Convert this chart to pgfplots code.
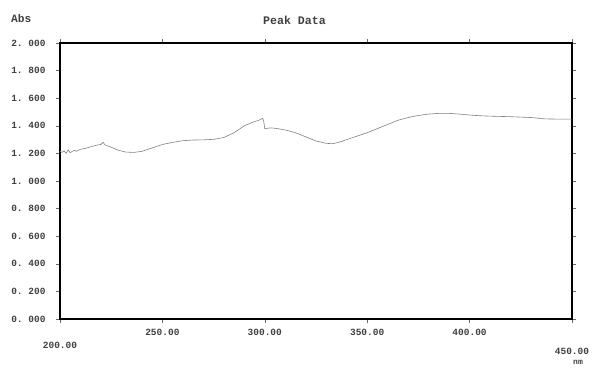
\documentclass[border=0pt]{standalone}
\usepackage{fontspec}
\setmainfont{Liberation Serif}
\setmonofont{Liberation Mono}
\usepackage{pgfplots}
\pgfplotsset{compat=1.18}
\begin{document}
\begin{tikzpicture}[x=1pt,y=1pt]
\path[use as bounding box] (-60,-49) rectangle (535,319);
\begin{axis}[
  at={(0,0)}, anchor=south west,
  scale only axis, width=512pt, height=276pt,
  xmin=200, xmax=450, ymin=0, ymax=2,
  axis line style={line width=1.3pt, black},
  tick align=outside, major tick length=4pt,
  tick style={black!60, line width=0.5pt},
  xtick={200,250,300,350,400,450},
  xticklabels={\raisebox{-19pt}{200.00},250.00,300.00,350.00,400.00,\raisebox{-25pt}{450.00}},
  ytick={0,0.2,0.4,0.6,0.8,1.0,1.2,1.4,1.6,1.8,2.0},
  yticklabels={0. 000,0. 200,0. 400,0. 600,0. 800,1. 000,1. 200,1. 400,1. 600,1. 800,2. 000},
  ticklabel style={font=\ttfamily\bfseries\fontsize{9.5}{10}\selectfont, text=black!75},
  yticklabel style={xshift=-7pt},
  xticklabel style={yshift=-3pt},
  clip=false,
]
\addplot[black!50, line width=0.6pt] coordinates {
(200,1.215) (201,1.208) (202,1.218) (203,1.2) (204,1.225) (205,1.205) (206,1.215) (207,1.222) (208,1.215)
(210,1.23) (212,1.235) (215,1.248) (218,1.26) (220,1.265) (221,1.28) (222,1.262) (225,1.245)
(228,1.225) (232,1.21) (236,1.207) (240,1.215) (245,1.24) (250,1.265) (255,1.28) (260,1.292)
(265,1.297) (270,1.298) (275,1.302) (280,1.315) (285,1.35) (290,1.40) (294,1.425) (297,1.44)
(299,1.455) (299.5,1.43) (300,1.38) (303,1.385) (306,1.38) (310,1.37) (315,1.35) (320,1.32)
(325,1.29) (330,1.273) (333,1.27) (336,1.28) (340,1.30) (345,1.325) (350,1.35) (355,1.38)
(360,1.41) (365,1.44) (370,1.46) (375,1.475) (380,1.485) (385,1.49) (390,1.49) (395,1.485)
(400,1.478) (405,1.473) (410,1.47) (420,1.466) (430,1.46) (437,1.45) (445,1.448) (450,1.448)
};
\end{axis}
\node[anchor=west, inner sep=0pt, font=\ttfamily\bfseries\fontsize{11.2}{12}\selectfont, text=black!75] at (-49,301) {Abs};
\node[font=\ttfamily\bfseries\fontsize{11.6}{12}\selectfont, text=black!75] at (234.5,299) {Peak Data};
\node[font=\ttfamily\bfseries\fontsize{8}{9}\selectfont, text=black!75] at (518,-43) {nm};
\end{tikzpicture}
\end{document}
